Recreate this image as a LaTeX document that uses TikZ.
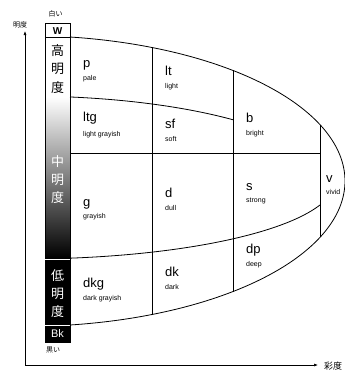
\documentclass[tikz,border=0pt]{standalone}
\usepackage{fontspec}
\setmainfont{Liberation Sans}
\newfontfamily\jpfont{Noto Sans CJK JP}
\usetikzlibrary{arrows.meta}

\begin{document}
\begin{tikzpicture}[x=1pt,y=-1pt,
    declare function={oy(\d)=145.45*sqrt(1-(\d/320)^2);},
    line/.style={line width=0.8pt},
    tone/.style={anchor=base west,inner sep=0pt,font=\fontsize{13}{13}\selectfont},
    tname/.style={anchor=base west,inner sep=0pt,font=\fontsize{7}{7}\selectfont},
    kanji/.style={inner sep=0pt,font=\jpfont\fontsize{13}{13}\selectfont},
    note/.style={inner sep=0pt,font=\jpfont\fontsize{7}{7}\selectfont},
    axis/.style={-{Latex[length=4pt,width=3pt]},line width=0.6pt}]
  \useasboundingbox (0,0) rectangle (345,372);
  % lightness bar
  \shade[top color=white,bottom color=black] (45,97) rectangle (70,258);
  \fill[black] (45,258) rectangle (70,342);
  \draw[line] (45,23) rectangle (70,342);
  \draw[line] (45,37) -- (70,37);
  \draw[white,line width=0.6pt] (45,259) -- (70,259);
  \draw[white,line width=0.6pt] (45,325) -- (70,325);
  \node[inner sep=0pt,font=\bfseries\fontsize{10}{10}\selectfont] (white) at (57.5,31) {W};
  \node[kanji] (hi1) at (57.5,51) {高};
  \node[kanji] (hi2) at (57.5,69) {明};
  \node[kanji] (hi3) at (57.5,88) {度};
  \node[kanji,white] (mid1) at (57.5,162) {中};
  \node[kanji,white] (mid2) at (57.5,180) {明};
  \node[kanji,white] (mid3) at (57.5,198) {度};
  \node[kanji,white] (lo1) at (57.5,276) {低};
  \node[kanji,white] (lo2) at (57.5,294) {明};
  \node[kanji,white] (lo3) at (57.5,312) {度};
  \node[inner sep=0pt,white,font=\fontsize{11}{11}\selectfont] (black) at (57.5,334) {Bk};
  \node[note] (whitelab) at (55.5,14) {白い};
  \node[note] (blacklab) at (53,350) {黒い};
  % tone regions
  \draw[line] plot[domain=81.92:-81.92,samples=90,smooth] ({25+320*cos(\x)},{181-145.45*sin(\x)});
  \draw[line] plot[domain=81.37:46.1,samples=30,smooth] ({25+300*cos(\x)},{181-85*sin(\x)});
  \draw[line] plot[domain=81.65:17.9,samples=40,smooth] ({25+310*cos(\x)},{181+78*sin(\x)});
  \draw[line] (70,153) -- (320,153);
  \foreach \cx in {152,233,320}
    \draw[line] (\cx,{181-oy(\cx-25)}) -- (\cx,{181+oy(\cx-25)});
  \node[tone] (p) at (83,67) {p};
  \node[tname] (pale) at (83,80) {pale};
  \node[tone] (lt) at (165,75) {lt};
  \node[tname] (light) at (165,88) {light};
  \node[tone] (b) at (246,122) {b};
  \node[tname] (bright) at (246,135) {bright};
  \node[tone] (ltg) at (83,121) {ltg};
  \node[tname] (lightgrayish) at (83,136) {light grayish};
  \node[tone] (sf) at (165,128) {sf};
  \node[tname] (soft) at (165,141) {soft};
  \node[tone] (g) at (83,206) {g};
  \node[tname] (grayish) at (83,218) {grayish};
  \node[tone] (d) at (165,197) {d};
  \node[tname] (dull) at (165,210) {dull};
  \node[tone] (s) at (246,190) {s};
  \node[tname] (strong) at (246,202) {strong};
  \node[tone] (v) at (326,182) {v};
  \node[tname] (vivid) at (326,194) {vivid};
  \node[tone] (dkg) at (83,287) {dkg};
  \node[tname] (darkgrayish) at (83,300) {dark grayish};
  \node[tone] (dk) at (165,276) {dk};
  \node[tname] (dark) at (165,289) {dark};
  \node[tone] (dp) at (246,253) {dp};
  \node[tname] (deep) at (246,266) {deep};
  % axes
  \coordinate (origin) at (25,365);
  \coordinate (ytip) at (25,31);
  \coordinate (xtip) at (318,365);
  \draw[axis] (origin) -- (ytip);
  \draw[axis] (origin) -- (xtip);
  \node[note] (ylab) at (20,25) {明度};
  \node[note,font=\jpfont\fontsize{9}{9}\selectfont] (xlab) at (333,366) {彩度};
\end{tikzpicture}
\end{document}
